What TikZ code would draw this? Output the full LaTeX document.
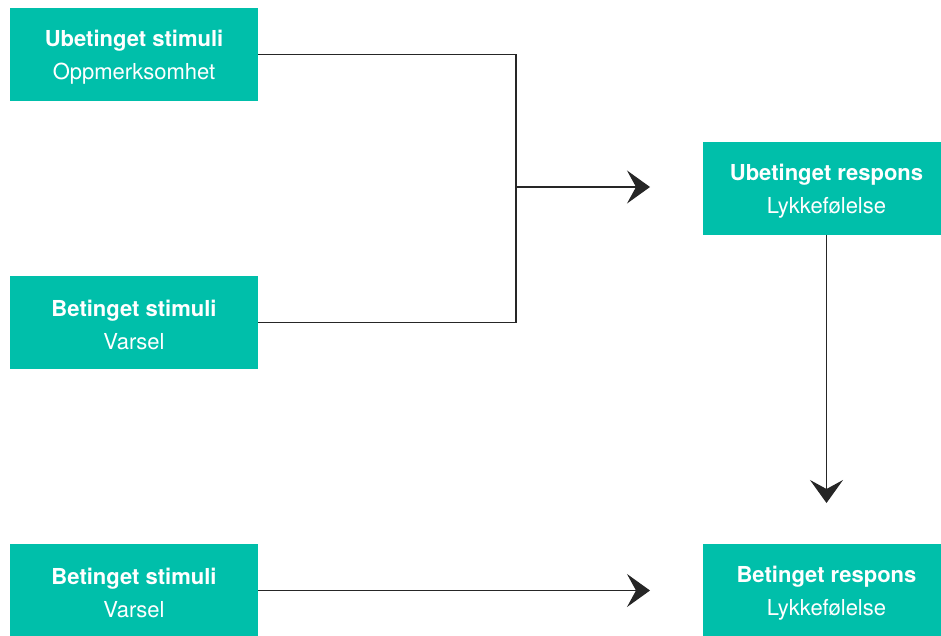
\documentclass[tikz,border=0pt]{standalone}
\usepackage{fontspec}
\setmainfont{TeX Gyre Heros}
\usetikzlibrary{arrows.meta,positioning}
\definecolor{boxteal}{RGB}{0,191,170}
\newcommand{\boxtext}[2]{\rule{0pt}{22pt}\textbf{#1}\\#2}

\begin{document}
\begin{tikzpicture}[x=1pt, y=-1pt,
  blk/.style={fill=boxteal, text=white, minimum width=248pt, minimum height=93pt,
    inner sep=0pt, align=center, font=\fontsize{22}{33}\selectfont},
  lnk/.style={line width=1.2pt, draw=black!85},
  tip/.style={-{Stealth[length=23pt, width=33pt, inset=9pt]}}]
\useasboundingbox (0,0) rectangle (941,635);
\node[blk] (US) at (134,54.5) {\boxtext{Ubetinget stimuli}{Oppmerksomhet}};
\node[blk] (BS) at (134,322.5) {\boxtext{Betinget stimuli}{Varsel}};
\node[blk] (BS2) at (134,590.5) {\boxtext{Betinget stimuli}{Varsel}};
\node[blk] (UR) at (826.5,188.5) {\boxtext{Ubetinget respons}{Lykkefølelse}};
\node[blk] (BR) at (826.5,590.5) {\boxtext{Betinget respons}{Lykkefølelse}};
\coordinate (J) at (516,187);
\coordinate (JT) at (650,187);
\coordinate (UT) at (826.5,503);
\coordinate (BT) at (650,590.5);
\draw[lnk] (US.east) -| (J) |- (BS.east);
\draw[lnk, tip] (J) -- (JT);
\draw[lnk, tip] (UR.south) -- (UT);
\draw[lnk, tip] (BS2.east) -- (BT);
\end{tikzpicture}
\end{document}
